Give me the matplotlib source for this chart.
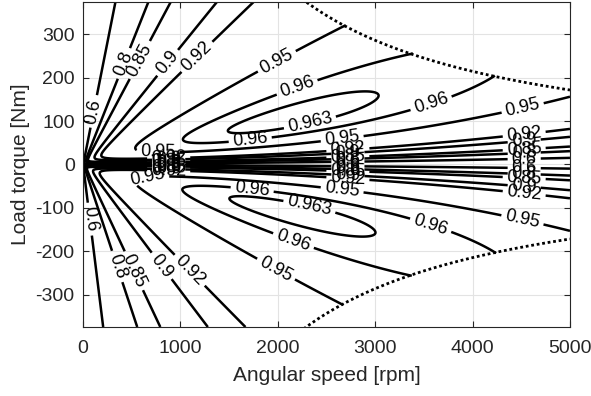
import numpy as np
import matplotlib.pyplot as plt

plt.rcParams['font.family'] = ['Liberation Sans', 'DejaVu Sans']
plt.rcParams['axes.unicode_minus'] = False

# contour levels of the efficiency map
levels = [0.6, 0.8, 0.85, 0.9, 0.92, 0.95, 0.96, 0.963]

# loss model (W, rad/s, Nm)
copper_coef = 0.037                          # copper loss = k * T^2
speed_loss_coef = [0.817, 0.001435, 1.65e-5]  # P = w * (b + c*w + d*w^2)
motor_loss_factor = 1.04                     # extra loss in the negative torque half
max_power = 90.0e3                           # constant power limit (dotted line)

speed_lim = [0, 5000]
torque_lim = [-375, 375]

# label positions (rpm, Nm) picked by hand
label_pos = [(123, 122), (411, 234), (585, 241), (873, 234), (1150, 253),
             (72, -126), (329, -237), (514, -246), (790, -237), (1078, -248),
             (2000, 234), (2200, 177), (2330, 97), (1715, 62), (770, 34),
             (1971, -246), (2156, -179), (2330, -92), (1735, -62), (667, -41),
             (3563, 149), (4507, 138), (2659, 64), (3563, -145), (4507, -133),
             (2659, -62)]
cluster_speeds = [880, 2720, 4530]
cluster_levels = [0.6, 0.8, 0.85, 0.9, 0.92]

rpm = np.linspace(speed_lim[0], speed_lim[1], 701)
torque = np.linspace(torque_lim[0], torque_lim[1], 1801)
S, T = np.meshgrid(rpm, torque)
w = S * np.pi / 30
P = T * w
b, c, d = speed_loss_coef
loss = copper_coef * T**2 + w * (b + c * w + d * w**2)
with np.errstate(divide='ignore', invalid='ignore'):
    gen = 1 - loss / np.where(P > 0, P, np.nan)
    mot = np.abs(P) / (np.abs(P) + motor_loss_factor * loss)
eta = np.where(T > 0, gen, mot)
eta = np.clip(np.nan_to_num(eta, nan=0.0), 0, 1)
limit = max_power / np.maximum(w, 1e-9)
eta_m = np.ma.masked_where(np.abs(T) > limit * 1.01, eta)


def inner_torque(speed, level, sign):
    j = np.argmin(abs(rpm - speed))
    i0 = np.argmin(abs(torque))
    idx = range(i0, len(torque)) if sign > 0 else range(i0, -1, -1)
    for i in idx:
        if eta[i, j] >= level:
            return torque[i]
    return None


for s in cluster_speeds:
    for lv in cluster_levels:
        for sg in (1, -1):
            t = inner_torque(s, lv, sg)
            if t is not None:
                label_pos.append((s, t))

fig = plt.figure(figsize=(5.91, 3.96), dpi=100)
ax = fig.add_axes([0.1404, 0.1742, 0.824, 0.8208])

cs = ax.contour(S, T, eta_m, levels=levels, colors='k', linewidths=1.8)
ax.clabel(cs, levels, manual=label_pos, inline=True, inline_spacing=4,
          fontsize=13, fmt='%g')

s = rpm[rpm > 0]
tl = max_power / (s * np.pi / 30)
ax.plot(s, tl, color='k', linestyle=(0, (1, 1)), linewidth=2)
ax.plot(s, -tl, color='k', linestyle=(0, (1, 1)), linewidth=2)

ax.set_xlim(speed_lim)
ax.set_ylim(torque_lim)
ax.set_xticks(np.arange(0, 5001, 1000))
ax.set_yticks(np.arange(-300, 301, 100))
ax.grid(True, color='#e3e3e3', linewidth=0.8)
ax.set_axisbelow(True)
ax.tick_params(direction='in', top=True, right=True, length=4,
               labelsize=14, colors='#262626')
ax.tick_params(axis='x', pad=9.5)
ax.tick_params(axis='y', pad=6)
for sp in ax.spines.values():
    sp.set_color('#262626')
ax.set_xlabel('Angular speed [rpm]', fontsize=15, color='#262626', labelpad=6)
ax.set_ylabel('Load torque [Nm]', fontsize=15, color='#262626', labelpad=4)

fig.savefig('out.png', dpi=100)
